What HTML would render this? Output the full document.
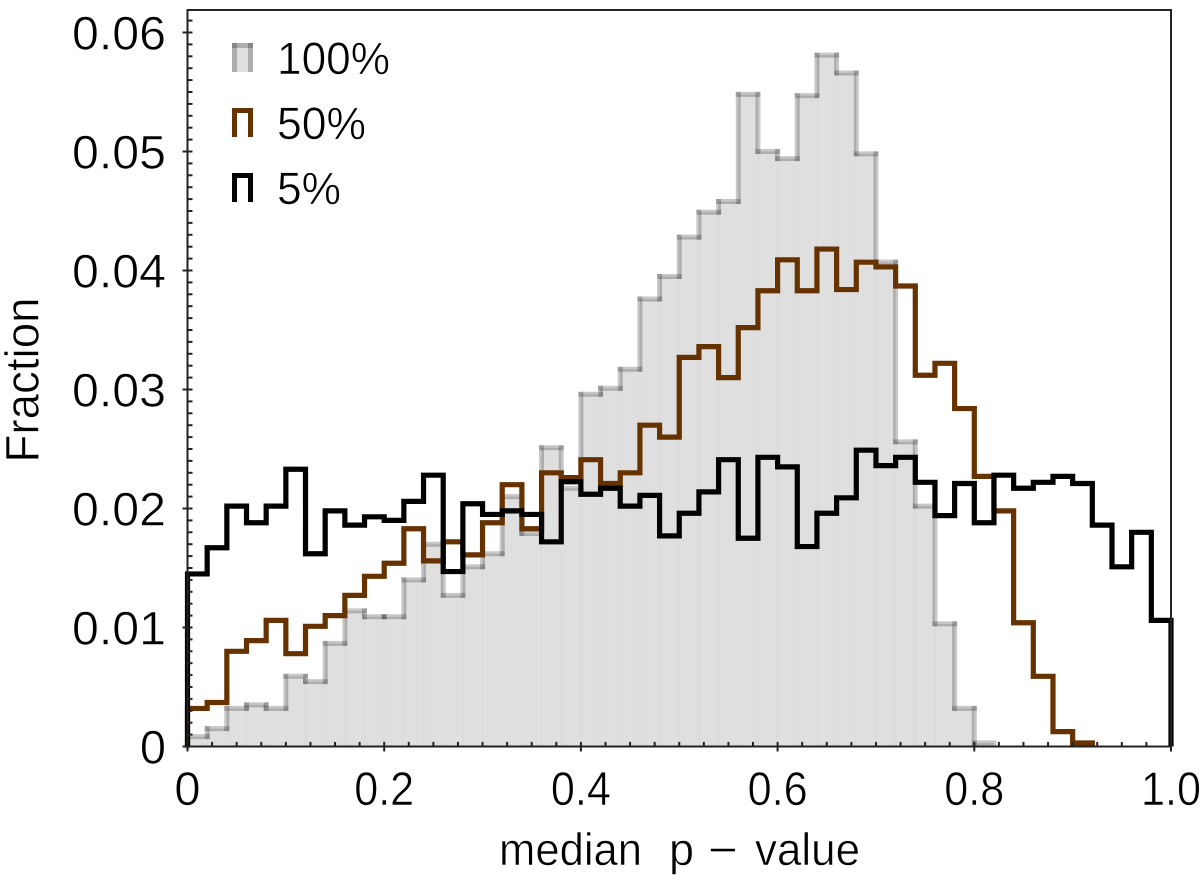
<!DOCTYPE html>
<html lang="en">
<head>
<meta charset="utf-8">
<title>Median p-value histogram</title>
<style>
html,body{margin:0;padding:0;background:#fff;width:1200px;height:881px;overflow:hidden}
svg{display:block}
text{font-family:"Liberation Sans",sans-serif;fill:#000;stroke:#fff;stroke-width:0.6px}
</style>
</head>
<body>
<svg id="chart" width="1200" height="881" viewBox="0 0 1200 881" xmlns="http://www.w3.org/2000/svg">
  <g id="fill-layer"></g>
  <g id="gray-layer"></g>
  <path id="brown-line" fill="none" stroke="#663300" stroke-width="5.2" stroke-linejoin="miter"></path>
  <path id="black-line" fill="none" stroke="#000" stroke-width="5.2" stroke-linejoin="miter"></path>
  <rect x="187.5" y="10" width="983.5" height="736.5" fill="none" stroke="#222" stroke-width="2"></rect>
  <g id="tick-layer"></g>
  <g id="label-layer"></g>
  <text y="865" font-size="45"><tspan x="499" textLength="143" lengthAdjust="spacingAndGlyphs">median</tspan> <tspan x="669">p</tspan> <tspan x="708" textLength="30" lengthAdjust="spacingAndGlyphs">−</tspan> <tspan x="755" textLength="105" lengthAdjust="spacingAndGlyphs">value</tspan></text>
  <text transform="translate(38.5,380) rotate(-90)" text-anchor="middle" font-size="47" textLength="165" lengthAdjust="spacingAndGlyphs">Fraction</text>
  <g>
    <g>
      <rect x="232" y="43" width="21" height="29" fill="rgba(0,0,0,0.125)"></rect>
      <line x1="232" y1="45.5" x2="253" y2="45.5" stroke="rgba(0,0,0,0.22)" stroke-width="5"></line>
      <line x1="234.5" y1="43" x2="234.5" y2="72" stroke="rgba(0,0,0,0.22)" stroke-width="5"></line>
      <line x1="250.5" y1="43" x2="250.5" y2="72" stroke="rgba(0,0,0,0.22)" stroke-width="5"></line>
      <text x="277" y="74" font-size="45" textLength="113" lengthAdjust="spacingAndGlyphs">100%</text>
    </g>
    <g>
      <path d="M234.5 137V110.5H250.5V137" fill="none" stroke="#663300" stroke-width="5"></path>
      <text x="277" y="139" font-size="45" textLength="89" lengthAdjust="spacingAndGlyphs">50%</text>
    </g>
    <g>
      <path d="M234.5 202V175.5H250.5V202" fill="none" stroke="#000" stroke-width="5"></path>
      <text x="277" y="204" font-size="45" textLength="64" lengthAdjust="spacingAndGlyphs">5%</text>
    </g>
  </g>
</svg>
<script>
const binWidth = 0.02;
const seriesFull = [0.00083,0.0015,0.0032,0.0035,0.0032,0.0059,0.00545,0.00867,0.0114,0.0109,
0.0109,0.0140,0.0170,0.0127,0.0151,0.0162,0.0210,0.0179,0.0251,0.0217,
0.0296,0.0301,0.0317,0.0376,0.0395,0.0428,0.0449,0.0458,0.0548,0.0500,
0.0494,0.0547,0.0581,0.0566,0.0498,0.0407,0.0256,0.0202,0.0103,0.0032,
0.0003,0,0,0,0,0,0,0,0,0];
const seriesHalf = [0.0032,0.0037,0.0080,0.0089,0.0106,0.0078,0.0101,0.0110,0.0127,0.0143,
0.0154,0.0183,0.0156,0.0172,0.0161,0.0188,0.0220,0.0183,0.0230,0.0226,
0.0241,0.0221,0.0230,0.0270,0.0260,0.0327,0.0336,0.0310,0.0352,0.0383,
0.0409,0.0383,0.0418,0.0384,0.0407,0.0403,0.0387,0.0312,0.0322,0.0284,
0.0227,0.0198,0.0104,0.0059,0.00125,0.0003,0,0,0,0];
const seriesFive = [0.0145,0.0167,0.0202,0.0188,0.0202,0.0233,0.0162,0.0198,0.0186,0.0193,
0.0190,0.0206,0.0228,0.0147,0.0204,0.0195,0.0198,0.0195,0.0172,0.02225,
0.0212,0.0217,0.0202,0.0211,0.0177,0.0196,0.0214,0.0241,0.0175,0.0243,
0.0235,0.0168,0.0196,0.0209,0.0249,0.0236,0.0243,0.0222,0.0194,0.0221,
0.0188,0.0228,0.0217,0.0222,0.0227,0.0221,0.0186,0.0151,0.0180,0.0106];
const xTickLabels = ["0","0.2","0.4","0.6","0.8","1.0"];
const xTickValues = [0,0.2,0.4,0.6,0.8,1.0];
const yTickLabels = ["0","0.01","0.02","0.03","0.04","0.05","0.06"];
const yTickValues = [0,0.01,0.02,0.03,0.04,0.05,0.06];

const NS = "http://www.w3.org/2000/svg";
function xPos(v){ return 187.5 + v * 983.5; }
function yPos(v){ return 746.5 - v * 11900; }
function make(tag, parent, attrs){
  const el = document.createElementNS(NS, tag);
  for (const k in attrs) el.setAttribute(k, attrs[k]);
  parent.appendChild(el);
  return el;
}
function stepPath(values){
  let last = values.length - 1;
  while (last > 0 && values[last] === 0) last--;
  let d = "M" + xPos(0) + " " + yPos(0);
  for (let i = 0; i <= last; i++){
    d += "L" + xPos(i * binWidth) + " " + yPos(values[i]);
    d += "L" + xPos((i + 1) * binWidth) + " " + yPos(values[i]);
  }
  d += "L" + xPos((last + 1) * binWidth) + " " + yPos(0);
  return d;
}

const fillLayer = document.getElementById("fill-layer");
const grayLayer = document.getElementById("gray-layer");
seriesFull.forEach(function(v, i){
  if (v === 0) return;
  const prev = i > 0 ? seriesFull[i - 1] : 0;
  const x0 = xPos(i * binWidth), x1 = xPos((i + 1) * binWidth);
  const bar = make("rect", fillLayer, {x: x0, y: yPos(v), width: x1 - x0, height: yPos(0) - yPos(v), fill: "#dfdfdf"});
  
  
  const seam = make("line", fillLayer, {x1: x0, y1: yPos(v), x2: x0, y2: yPos(0), stroke: "rgba(0,0,0,0.025)", "stroke-width": 1.5});
  
  
  const rise = make("line", grayLayer, {x1: x0, y1: yPos(prev), x2: x0, y2: yPos(v), stroke: "rgba(0,0,0,0.22)", "stroke-width": 5, "stroke-linecap": "square"});
  
  
  const top = make("line", grayLayer, {x1: x0, y1: yPos(v), x2: x1, y2: yPos(v), stroke: "rgba(0,0,0,0.22)", "stroke-width": 5, "stroke-linecap": "square"});
  
  
});
document.getElementById("brown-line").setAttribute("d", stepPath(seriesHalf));
document.getElementById("black-line").setAttribute("d", stepPath(seriesFive));

const tickLayer = document.getElementById("tick-layer");
for (let k = 0; k <= 40; k++){
  const v = k * 0.025;
  const major = k % 8 === 0;
  const t = make("line", tickLayer, {x1: xPos(v), y1: 746.5 - 4.6, x2: xPos(v), y2: major ? 751.5 : 746.5, stroke: "#222", "stroke-width": 2});
  
  
}
for (let k = 0; k <= 61; k++){
  const v = k * 0.001;
  const major = k % 10 === 0;
  const t = make("line", tickLayer, {x1: major ? 182.5 : 187.5, y1: yPos(v), x2: 192.5, y2: yPos(v), stroke: "#222", "stroke-width": 2});
  
  
}

const labelLayer = document.getElementById("label-layer");
xTickLabels.forEach(function(s, i){
  const t = make("text", labelLayer, {x: xPos(xTickValues[i]), y: 805, "text-anchor": "middle", "font-size": 47});
  if (s.length > 1) {
    t.setAttribute("textLength", "60");
    t.setAttribute("lengthAdjust", "spacingAndGlyphs");
  }
  
  
  t.textContent = s;
});
yTickLabels.forEach(function(s, i){
  const t = make("text", labelLayer, {x: 166, y: yPos(yTickValues[i]) + 17, "text-anchor": "end", "font-size": 47});
  if (s.length > 1) {
    t.setAttribute("textLength", "94");
    t.setAttribute("lengthAdjust", "spacingAndGlyphs");
  }
  
  
  t.textContent = s;
});
</script>
</body>
</html>
